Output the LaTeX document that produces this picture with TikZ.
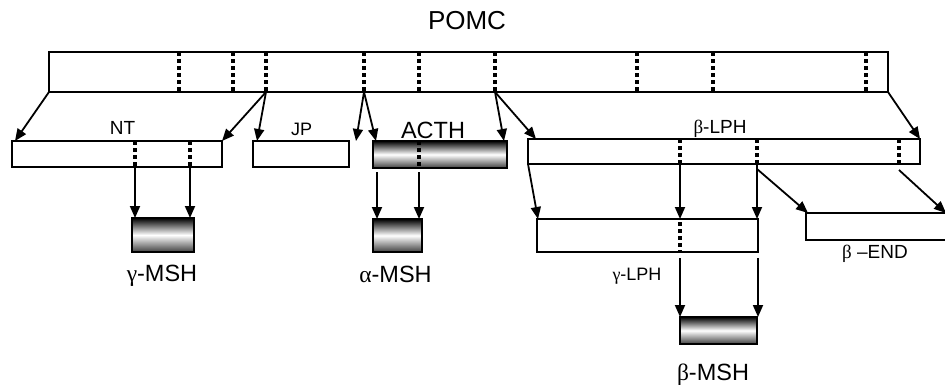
\documentclass[tikz,border=0pt]{standalone}
\usepackage{fontspec}
\setmainfont{Liberation Sans}
\newfontfamily\grk{Liberation Serif}
\usetikzlibrary{arrows.meta}

\begin{document}
\begin{tikzpicture}[x=1pt, y=-1pt,
    box/.style={draw, line width=2pt, inner sep=0pt, outer sep=0pt, fill=white},
    hormone/.style={box, top color=black, bottom color=black!75, middle color=white},
    site/.style={line width=3.5pt, dash pattern=on 3.5pt off 3.5pt},
    cut/.style={line width=1.8pt, -{Triangle[length=12pt, width=10pt]}},
    lbl/.style={anchor=base, font=\fontsize{19}{21}\selectfont},
    smalllbl/.style={anchor=base, font=\fontsize{18}{20}\selectfont},
    biglbl/.style={anchor=base, font=\fontsize{23.5}{25}\selectfont}]
    % 1. Khung ảnh
    \clip (0,0) rectangle (945,388);

    % 2. Các đoạn peptide
    \node[box, minimum width=839pt, minimum height=40pt] (pomc) at (468.5,72) {};
    \node[box, minimum width=210pt, minimum height=26pt] (nt) at (117,154) {};
    \node[box, minimum width=96pt, minimum height=26pt] (jp) at (301,154) {};
    \node[hormone, minimum width=134pt, minimum height=27pt] (acth) at (440,154.5) {};
    \node[box, minimum width=392pt, minimum height=25pt] (blph) at (724,151.5) {};
    \node[hormone, minimum width=62pt, minimum height=34pt] (gmsh) at (163,235) {};
    \node[hormone, minimum width=49pt, minimum height=33pt] (amsh) at (397.5,235.5) {};
    \node[box, minimum width=221pt, minimum height=33pt] (glph) at (647.5,235.5) {};
    \node[box, minimum width=164pt, minimum height=27pt] (bend) at (888,226.5) {};
    \node[hormone, minimum width=77pt, minimum height=27pt] (bmsh) at (718.5,330.5) {};

    % 3. Vị trí cắt (đường chấm)
    \foreach \x [count=\i] in {179,233,266,364,419,495,637,713,866}
        \draw[site] (\x,52) -- (\x,92) coordinate (p\i);
    \foreach \x [count=\i] in {135,190}
        \draw[site] (\x,141) -- (\x,167) coordinate (n\i);
    \draw[site] (419,141) -- (419,168) coordinate (a1);
    \foreach \x [count=\i] in {680,757,899}
        \draw[site] (\x,139) -- (\x,164) coordinate (b\i);
    \draw[site] (680,222) -- (680,252) coordinate (g1);

    % 4. Mũi tên phân cắt từ POMC
    \draw[cut] (pomc.south west) -- ([xshift=3pt]nt.north west);
    \draw[cut] (p3) -- (nt.north east);
    \draw[cut] (p3) -- ([xshift=4pt]jp.north west);
    \draw[cut] (p4) -- ([xshift=7pt]jp.north east);
    \draw[cut] (p4) -- ([xshift=3pt]acth.north west);
    \draw[cut] (p6) -- ([xshift=-3pt]acth.north east);
    \draw[cut] (p6) -- ([xshift=8pt]blph.north west);
    \draw[cut] (pomc.south east) -- (blph.north east);

    % 5. NT -> gamma-MSH, ACTH -> alpha-MSH
    \draw[cut] (n1) -- (n1 |- gmsh.north);
    \draw[cut] (n2) -- (n2 |- gmsh.north);
    \draw[cut] ([shift={(4,4)}]acth.south west) -- ([xshift=4pt]amsh.north west);
    \draw[cut] ([yshift=-4pt]a1) -- (a1 |- amsh.north);

    % 6. beta-LPH -> gamma-LPH, beta-END
    \draw[cut] (blph.south west) -- ([xshift=1pt]glph.north west);
    \draw[cut] (b1) -- (b1 |- glph.north);
    \draw[cut] (b2) -- (b2 |- glph.north);
    \draw[cut] ([yshift=-5pt]b2) -- ([xshift=2pt]bend.north west);
    \draw[cut] ([yshift=-6pt]b3) -- ([xshift=140pt]bend.north west);

    % 7. gamma-LPH -> beta-MSH
    \draw[cut] (g1) ++(0,6) -- (g1 |- bmsh.north);
    \draw[cut] (glph.south east) ++(0,6) -- (glph.south east |- bmsh.north);

    % 8. Nhãn
    \node[anchor=base, font=\fontsize{26}{28}\selectfont] (pomclbl) at (467,29) {POMC};
    \node[lbl] (ntlbl) at (122.5,134) {NT};
    \node[smalllbl] (jplbl) at (301.5,135) {JP};
    \node[biglbl] (acthlbl) at (433,138) {ACTH};
    \node[lbl] (blphlbl) at (720,133) {{\grk β}-LPH};
    \node[smalllbl] (glphlbl) at (637,280) {{\grk γ}-LPH};
    \node[lbl] (bendlbl) at (875,258) {{\grk β} –END};
    \node[biglbl] (gmshlbl) at (162,281) {{\grk γ}-MSH};
    \node[biglbl] (amshlbl) at (395.5,282) {{\grk α}-MSH};
    \node[biglbl] (bmshlbl) at (713,380) {{\grk β}-MSH};
\end{tikzpicture}
\end{document}
